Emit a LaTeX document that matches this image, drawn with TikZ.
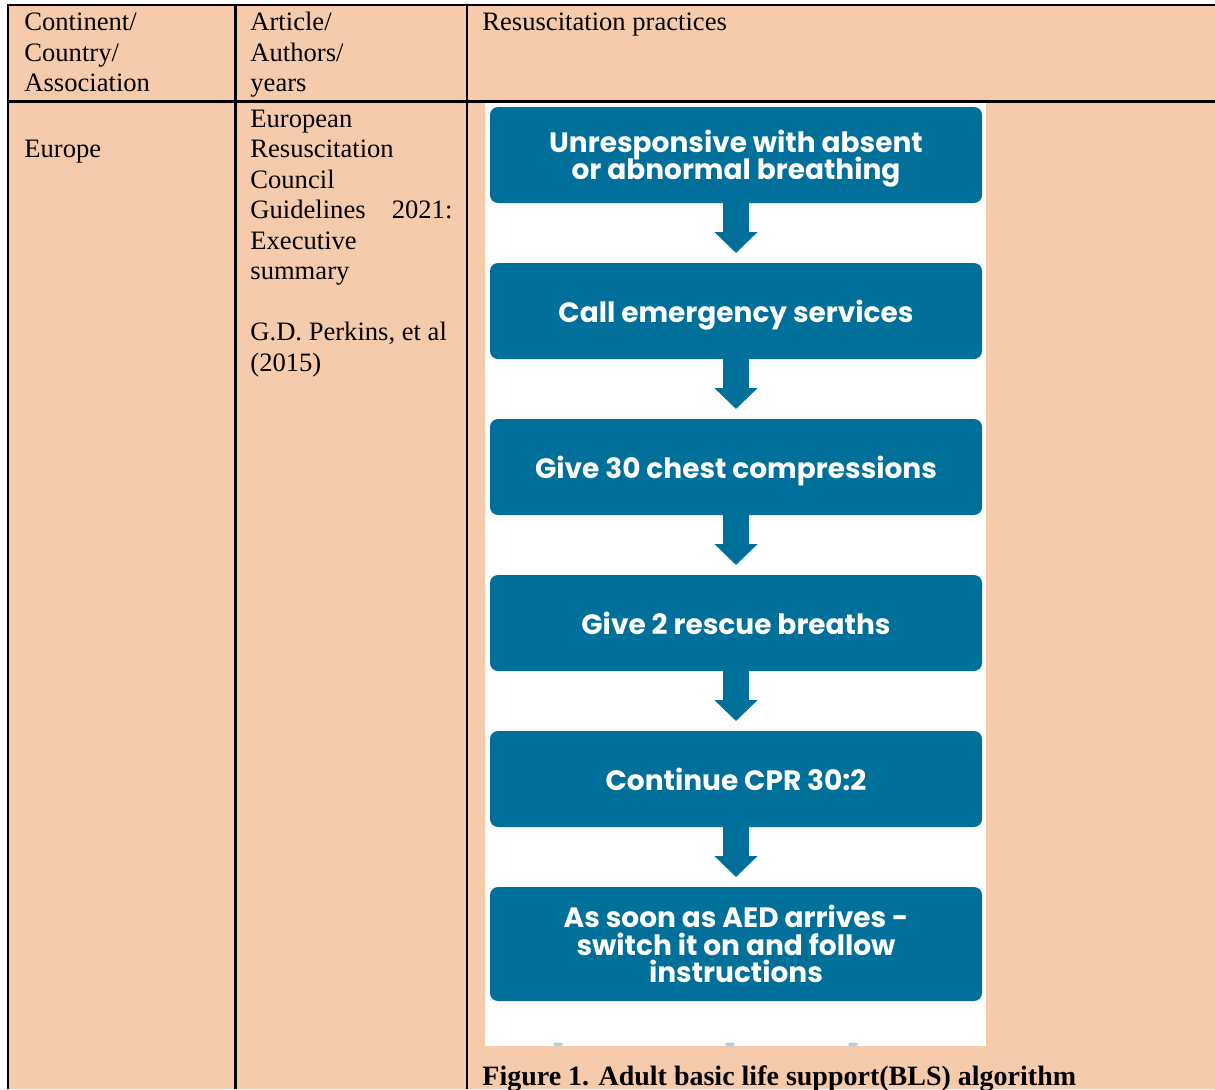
\documentclass[tikz,border=0pt]{standalone}
\usepackage{fontspec}
\setmainfont{Liberation Serif}
\newfontfamily\chartfont{Poppins}
\usetikzlibrary{arrows.meta, positioning}
\definecolor{tablepeach}{RGB}{246,203,172}
\definecolor{blsblue}{RGB}{0,112,155}
\definecolor{fadeblue}{RGB}{175,208,226}
\setlength{\lineskiplimit}{-10pt}

\begin{document}
\begin{tikzpicture}[x=0.5pt, y=-0.5pt,
  cell/.style={anchor=base west, inner sep=0pt, font=\fontsize{13.3}{15.25}\selectfont},
  blsbox/.style={fill=blsblue, rounded corners=4pt, minimum width=246pt, minimum height=48pt,
    inner sep=0pt, outer sep=0pt, text depth=0pt, text=white, align=center,
    font=\chartfont\bfseries\fontsize{14}{13.7}\selectfont},
  blsarrow/.style={draw=blsblue, line width=13pt, -{Triangle[width=21pt, length=10.5pt]}, shorten >=5pt},
  rule/.style={line width=1.3pt}]
  \useasboundingbox (0,0) rectangle (1215,1089);

  % table background and rules
  \fill[tablepeach] (8,5) rectangle (1215,1089);
  \draw[rule] (8,1089) -- (8,5) -- (1215,5);
  \draw[rule] (8,101.7) -- (1215,101.7);
  \draw[rule] (235.5,5) -- (235.5,1089);
  \draw[rule] (467,5) -- (467,1089);

  % header row
  \foreach \y/\txt [count=\i] in {30.5/{Continent/}, 61/{Country/}, 91.5/{Association}}
    \node[cell] (hcont\i) at (24,\y) {\txt};
  \foreach \y/\txt [count=\i] in {30.5/{Article/}, 61/{Authors/}, 91.5/{years}}
    \node[cell] (hart\i) at (250,\y) {\txt};
  \node[cell] (hres) at (482,30.5) {Resuscitation practices};

  % body row
  \node[cell] (europe) at (24,157.5) {Europe};
  \foreach \y/\txt [count=\i] in {
    127/{European},
    157.5/{Resuscitation},
    188/{Council},
    218.5/{\hbox to 101pt{Guidelines\hfill 2021:}},
    249/{Executive},
    279.5/{summary},
    340.5/{G.D. Perkins, et al},
    371/{(2015)}
  } {
    \node[cell] (ref\i) at (250,\y) {\txt};
  }

  % BLS figure
  \fill[white] (485,103) rectangle (986,1046);
  \node[blsbox] (unresp) at (736,155) {Unresponsive with absent\\or abnormal breathing};
  \node[blsbox, below=30pt of unresp] (call) {Call emergency services};
  \node[blsbox, below=30pt of call] (comp) {Give 30 chest compressions};
  \node[blsbox, below=30pt of comp] (breath) {Give 2 rescue breaths};
  \node[blsbox, below=30pt of breath] (cpr) {Continue CPR 30:2};
  \node[blsbox, below=30pt of cpr, minimum height=57pt] (aed) {As soon as AED arrives -\\switch it on and follow\\instructions};
  \foreach \a/\b in {unresp/call, call/comp, comp/breath, breath/cpr, cpr/aed}
    \draw[blsarrow] (\a.south) -- (\b.north);
  \foreach \x in {558, 730, 853}
    \fill[fadeblue, rounded corners=0.8pt] (\x-5,1042.5) rectangle (\x+5,1046);

  \node[cell, font=\bfseries\fontsize{14}{16}\selectfont] (caption) at (482,1085) {Figure 1. Adult basic life support(BLS) algorithm};
\end{tikzpicture}
\end{document}
